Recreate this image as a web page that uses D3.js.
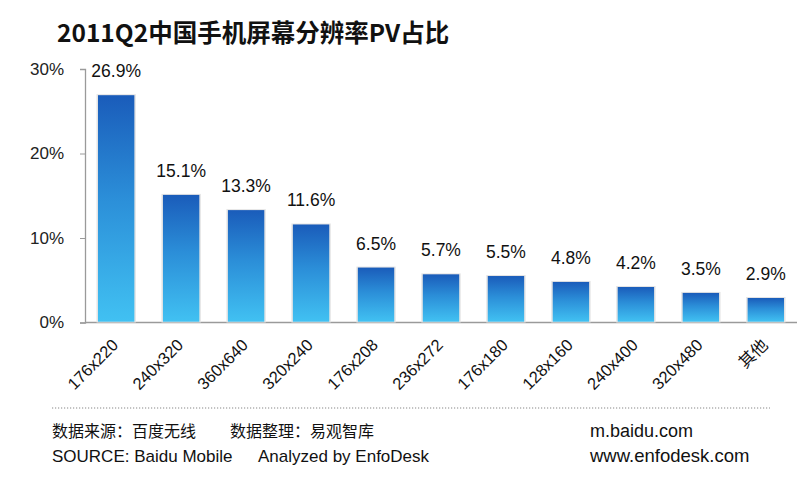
<!DOCTYPE html>
<html><head><meta charset="utf-8">
<script src="https://cdn.jsdelivr.net/npm/d3@7"></script>
<style>body{margin:0;background:#fff;} svg{display:block;}</style>
</head><body>
<script>
const title = "2011Q2中国手机屏幕分辨率PV占比";
const categories = ["176x220","240x320","360x640","320x240","176x208","236x272","176x180","128x160","240x400","320x480","其他"];
const values = [26.9,15.1,13.3,11.6,6.5,5.7,5.5,4.8,4.2,3.5,2.9];
const yTicks = [0,10,20,30];
const footerCN = ["数据来源：百度无线","数据整理：易观智库","m.baidu.com"];
const footerEN = ["SOURCE: Baidu Mobile","Analyzed by EnfoDesk","www.enfodesk.com"];

const W=805,H=477;
const svg=d3.select("body").append("svg").attr("width",W).attr("height",H);
const defs=svg.append("defs");
const g=defs.append("linearGradient").attr("id","bg").attr("x1",0).attr("y1",0).attr("x2",0).attr("y2",1);
g.append("stop").attr("offset","0%").attr("stop-color","#1a5cba");
g.append("stop").attr("offset","45%").attr("stop-color","#2b8ed8");
g.append("stop").attr("offset","100%").attr("stop-color","#41c1f2");

const latin="'Liberation Sans', Arial, sans-serif";
const cjk="'Noto Sans CJK SC', 'Noto Sans', sans-serif";

svg.append("text").attr("x",57).attr("y",42).attr("font-family","'Noto Sans CJK SC', sans-serif")
  .attr("font-weight","bold").attr("font-size",24.5).attr("fill","#111").text(title);

const x=d3.scaleBand().domain(categories).range([85,797]).paddingInner(0.44).paddingOuter(0.2);
const y=d3.scaleLinear().domain([0,30]).range([322.5,69]);

// y axis
const ya=svg.append("g").attr("transform","translate(85,0)")
  .call(d3.axisLeft(y).tickValues(yTicks).tickFormat(d=>d+"%").tickSize(5).tickPadding(16));
ya.select(".domain").attr("stroke","#9a9a9a").attr("stroke-width",1.3);
ya.selectAll(".tick line").attr("stroke","#9a9a9a");
ya.selectAll(".tick text").attr("font-family",latin).attr("font-size",17).attr("fill","#222");

// x axis line
svg.append("line").attr("x1",85).attr("x2",797).attr("y1",y(0)).attr("y2",y(0))
  .attr("stroke","#9a9a9a").attr("stroke-width",1.5);

const data=categories.map((c,i)=>({c,v:values[i]}));
// bar shadow
svg.selectAll("rect.sh").data(data).enter().append("rect").attr("class","sh")
  .attr("x",d=>x(d.c)-1.5).attr("y",d=>y(d.v)-1).attr("width",x.bandwidth()+3)
  .attr("height",d=>y(0)-y(d.v)+1).attr("fill","#e4e4e4");
svg.selectAll("rect.bar").data(data).enter().append("rect").attr("class","bar")
  .attr("x",d=>x(d.c)).attr("y",d=>y(d.v)).attr("width",x.bandwidth())
  .attr("height",d=>y(0)-y(d.v)-0.8).attr("fill","url(#bg)");

svg.selectAll("text.val").data(data).enter().append("text").attr("class","val")
  .attr("x",d=>x(d.c)+x.bandwidth()/2).attr("y",d=>y(d.v)-18).attr("text-anchor","middle")
  .attr("font-family",latin).attr("font-size",17.5).attr("fill","#111").text(d=>d.v.toFixed(1)+"%");

svg.selectAll("text.cat").data(data).enter().append("text").attr("class","cat")
  .attr("transform",d=>`translate(${x(d.c)+x.bandwidth()/2+3},346) rotate(-45)`)
  .attr("text-anchor","end").attr("font-family",d=>/[\u4e00-\u9fff]/.test(d.c)?cjk:latin)
  .attr("font-size",16.5).attr("fill","#111").text(d=>d.c);

// footer
svg.append("line").attr("x1",52).attr("x2",770).attr("y1",408).attr("y2",408)
  .attr("stroke","#888").attr("stroke-width",1.2).attr("stroke-dasharray","1.2,1.8");
const fx=[52,230,590];
const fsCN=[16,16,18];
footerCN.forEach((t,i)=>svg.append("text").attr("x",fx[i]).attr("y",437)
  .attr("font-family",/[\u4e00-\u9fff]/.test(t)?cjk:latin).attr("font-size",fsCN[i]).attr("fill","#111").text(t));
const fx2=[52,258,590];
const fsEN=[17,17,18.5];
footerEN.forEach((t,i)=>svg.append("text").attr("x",fx2[i]).attr("y",462)
  .attr("font-family",latin).attr("font-size",fsEN[i]).attr("fill","#111").text(t));
</script>
</body></html>
